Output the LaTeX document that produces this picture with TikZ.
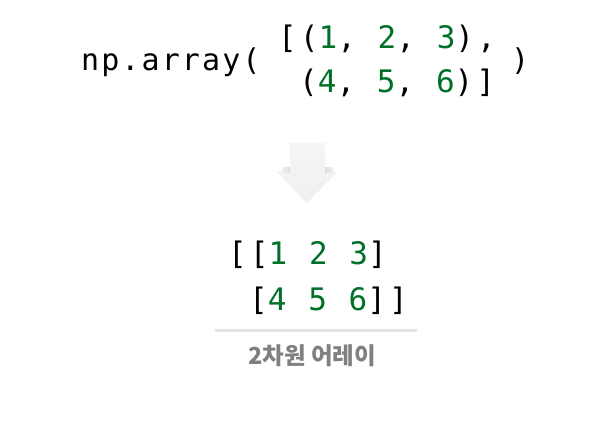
\documentclass[tikz,border=0pt]{standalone}
\usepackage{fontspec}
\newfontfamily\codeA[LetterSpace=7]{DejaVu Sans Mono}
\newfontfamily\codeB[LetterSpace=10]{DejaVu Sans Mono}
\newfontfamily\cjk{Noto Sans CJK KR}
\definecolor{numgreen}{RGB}{0,112,40}
\definecolor{capgray}{RGB}{128,128,128}
\newcommand{\g}[1]{\textcolor{numgreen}{#1}}
\tikzset{
  codeouter/.style={anchor=base west, inner sep=0pt, font=\codeA\fontsize{30}{30}\selectfont},
  codeinner/.style={anchor=base west, inner sep=0pt, font=\codeB\fontsize{31}{31}\selectfont},
  caption/.style={anchor=center, inner sep=0pt, text=capgray, font=\cjk\bfseries\fontsize{23.5}{23.5}\selectfont},
}
\begin{document}
\begin{tikzpicture}[x=1pt,y=-1pt]
\useasboundingbox (0,0) rectangle (615,422);
% top expression
\node[codeouter] (np) at (81,71) {np.array(};
\node[codeinner] (r1) at (278,49) {[(\g{1}, \g{2}, \g{3}),};
\node[codeinner] (r2) at (299,93) {(\g{4}, \g{5}, \g{6})]};
\node[codeouter] (close) at (511,71) {)};
% arrow
\shade[top color=black!4, bottom color=black!6]
  (290,143) -- (325,143) -- (325,172) -- (337,172) -- (307,203) -- (277,172) -- (290,172) -- cycle;
\shade[left color=black!6, right color=black!13] (282,168) rectangle (290,173);
\shade[left color=black!13, right color=black!6] (325,168) rectangle (333,173);
\coordinate (arrowtop) at (307,143);
\coordinate (arrowtip) at (307,203);
% result matrix
\node[codeinner] (m1) at (228,264) {[[\g{1} \g{2} \g{3}]};
\node[codeinner] (m2) at (249,310) {[\g{4} \g{5} \g{6}]]};
% separator
\draw[line width=3pt, color=black!11] (215,330.5) -- (417,330.5);
% caption
\node[caption] (cap) at (312,356) {2차원 어레이};
\end{tikzpicture}
\end{document}
